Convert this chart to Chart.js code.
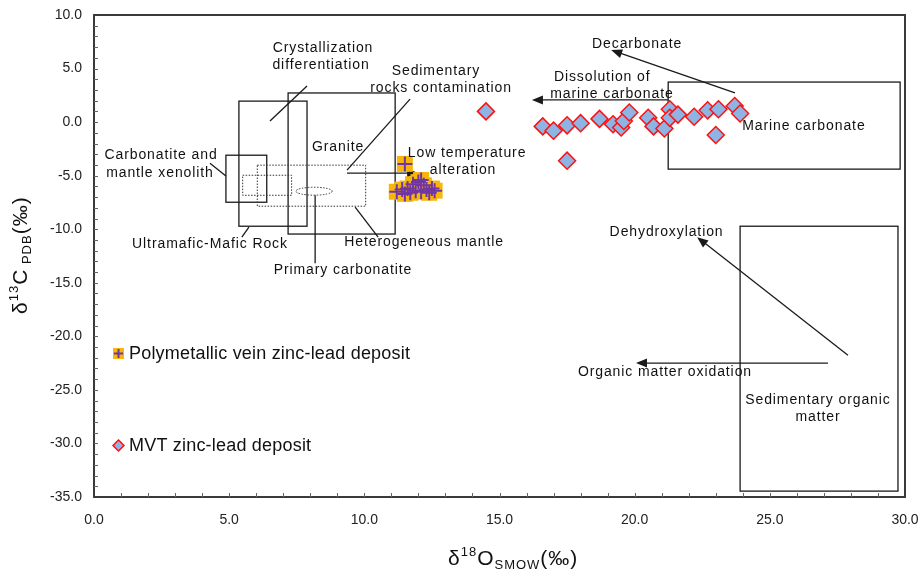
<!DOCTYPE html>
<html><head><meta charset="utf-8">
<script src="https://cdn.jsdelivr.net/npm/chart.js@4.4.1/dist/chart.umd.min.js"></script>
<style>html,body{margin:0;padding:0;background:#fff}#wrap{width:924px;height:573px}</style>
</head><body><div id="wrap"><canvas id="c" width="924" height="573"></canvas></div>
<script>
// ---------- data ----------
const polyX = [11.2, 11.4, 11.5, 11.6, 11.7, 11.8, 11.9, 12.0, 12.1, 12.2, 12.3, 12.4, 12.5, 12.6, 11.5, 12.1];
const polyY = [-6.5, -6.3, -6.7, -6.2, -6.6, -5.8, -6.4, -5.6, -6.5, -5.9, -6.3, -6.6, -6.2, -6.4, -3.9, -5.4];
const mvtX = [14.5, 16.6, 17.0, 17.5, 18.0, 17.5, 18.7, 19.2, 19.5, 19.6, 19.8, 20.5, 20.7, 21.1, 21.3, 21.3, 21.6, 22.2, 22.7, 23.1, 23.0, 23.7, 23.9];
const mvtY = [1.0, -0.4, -0.8, -0.3, -0.1, -3.6, 0.3, -0.2, -0.5, 0.1, 0.9, 0.4, -0.4, -0.6, 1.2, 0.4, 0.7, 0.5, 1.1, 1.2, -1.2, 1.5, 0.8];
const xTickValues = [0, 5, 10, 15, 20, 25, 30];
const xTickLabels = ['0.0', '5.0', '10.0', '15.0', '20.0', '25.0', '30.0'];
const yTickValues = [10, 5, 0, -5, -10, -15, -20, -25, -30, -35];
const yTickLabels = ['10.0', '5.0', '0.0', '-5.0', '-10.0', '-15.0', '-20.0', '-25.0', '-30.0', '-35.0'];
const seriesNames = ['Polymetallic vein zinc-lead deposit', 'MVT zinc-lead deposit'];

// ---------- annotations (data coordinates) ----------
const solidBoxes = [[5.36, 1.96, 7.88, -9.72], [7.18, 2.72, 11.14, -10.45], [4.88, -3.09, 6.39, -7.48], [21.24, 3.74, 29.82, -4.39], [23.90, -9.72, 29.74, -34.45]];
const dottedBoxes = [[5.50, -4.96, 7.31, -6.83], [6.04, -4.02, 10.05, -7.85]];
const ellipses = [[8.14, -6.45, 0.67, 0.37]];
const arrows = [[23.71, 2.72, 19.13, 6.73], [21.23, 2.07, 16.20, 2.07], [27.89, -21.76, 22.31, -10.74], [27.15, -22.5, 20.05, -22.5], [9.36, -4.76, 11.99, -4.76]];
const plainLines = [[9.36, -4.48, 11.69, 2.15], [6.51, 0.10, 7.88, 3.37], [4.29, -3.83, 4.88, -5.04], [5.73, -9.80, 5.47, -10.74], [8.18, -6.82, 8.18, -13.17], [9.66, -7.94, 10.51, -10.74]];
const labelTexts = ['Crystallization', 'differentiation', 'Sedimentary', 'rocks contamination', 'Granite', 'Low temperature', 'alteration', 'Carbonatite and', 'mantle xenolith', 'Ultramafic-Mafic Rock', 'Heterogeneous mantle', 'Primary carbonatite', 'Decarbonate', 'Dissolution of', 'marine carbonate', 'Marine carbonate', 'Dehydroxylation', 'Organic matter oxidation', 'Sedimentary organic', 'matter'];
const labelX = [8.47, 8.40, 12.65, 12.84, 9.03, 13.80, 13.65, 2.48, 2.44, 4.29, 12.21, 9.21, 20.09, 18.80, 19.16, 26.26, 21.18, 21.12, 26.78, 26.78];
const labelY = [6.92, 5.33, 4.77, 3.18, -2.33, -2.90, -4.48, -3.07, -4.75, -11.38, -11.19, -13.81, 7.29, 4.21, 2.62, -0.36, -10.27, -23.34, -25.95, -27.54];

const FONT = '"Liberation Sans", Arial, sans-serif';
const YELLOW = '#F6B60A', PURPLE = '#7236A3', BLUE = '#8DB4E2', RED = '#FF1010';

function makePolyMarker(s) {
  const c = document.createElement('canvas');
  c.width = s; c.height = s;
  const g = c.getContext('2d');
  g.fillStyle = YELLOW; g.fillRect(0, 0, s, s);
  g.strokeStyle = PURPLE; g.lineWidth = 2;
  g.beginPath();
  g.moveTo(s / 2, 1); g.lineTo(s / 2, s - 1);
  g.moveTo(1, s / 2); g.lineTo(s - 1, s / 2);
  g.stroke();
  return c;
}
const polyLegendMarker = makePolyMarker(11);

function arrowHead(ctx, x1, y1, x2, y2) {
  const a = Math.atan2(y2 - y1, x2 - x1), L = 11, W = 4.5;
  ctx.beginPath();
  ctx.moveTo(x2, y2);
  ctx.lineTo(x2 - L * Math.cos(a) + W * Math.sin(a), y2 - L * Math.sin(a) - W * Math.cos(a));
  ctx.lineTo(x2 - L * Math.cos(a) - W * Math.sin(a), y2 - L * Math.sin(a) + W * Math.cos(a));
  ctx.closePath(); ctx.fill();
}

function richText(ctx, segs, x, y) {
  let cx = x;
  segs.forEach(s => {
    ctx.font = s.size + 'px ' + FONT;
    ctx.fillText(s.t, cx, y + s.dy);
    cx += ctx.measureText(s.t).width;
  });
  return cx - x;
}

const annotPlugin = {
  id: 'annot',
  beforeDatasetsDraw(chart) {
    const ctx = chart.ctx, xs = chart.scales.x, ys = chart.scales.y;
    const X = v => xs.getPixelForValue(v), Y = v => ys.getPixelForValue(v);
    ctx.save();
    ctx.strokeStyle = '#1a1a1a'; ctx.lineWidth = 1.3;
    solidBoxes.forEach(b => { ctx.strokeRect(X(b[0]), Y(b[1]), X(b[2]) - X(b[0]), Y(b[3]) - Y(b[1])); });
    ctx.setLineDash([1.5, 1.5]); ctx.lineWidth = 1; ctx.strokeStyle = '#333';
    dottedBoxes.forEach(b => { ctx.strokeRect(X(b[0]), Y(b[1]), X(b[2]) - X(b[0]), Y(b[3]) - Y(b[1])); });
    ellipses.forEach(e => {
      ctx.beginPath();
      ctx.ellipse(X(e[0]), Y(e[1]), X(e[0] + e[2]) - X(e[0]), Y(e[1] - e[3]) - Y(e[1]), 0, 0, Math.PI * 2);
      ctx.stroke();
    });
    ctx.setLineDash([]);
    ctx.lineWidth = 1.3; ctx.strokeStyle = '#1a1a1a'; ctx.fillStyle = '#1a1a1a';
    plainLines.forEach(l => { ctx.beginPath(); ctx.moveTo(X(l[0]), Y(l[1])); ctx.lineTo(X(l[2]), Y(l[3])); ctx.stroke(); });
    arrows.forEach(l => {
      const x1 = X(l[0]), y1 = Y(l[1]), x2 = X(l[2]), y2 = Y(l[3]);
      const a = Math.atan2(y2 - y1, x2 - x1);
      ctx.beginPath(); ctx.moveTo(x1, y1); ctx.lineTo(x2 - 8 * Math.cos(a), y2 - 8 * Math.sin(a)); ctx.stroke();
      arrowHead(ctx, x1, y1, x2, y2);
    });
    ctx.restore();
  },
  afterDatasetsDraw(chart) {
    const ctx = chart.ctx, xs = chart.scales.x, ys = chart.scales.y, ca = chart.chartArea;
    const X = v => xs.getPixelForValue(v), Y = v => ys.getPixelForValue(v);
    ctx.save();
    // labels
    ctx.fillStyle = '#111'; ctx.textAlign = 'center'; ctx.textBaseline = 'middle';
    ctx.font = '14px ' + FONT; ctx.letterSpacing = '0.9px';
    labelTexts.forEach((t, i) => ctx.fillText(t, X(labelX[i]), Y(labelY[i])));
    // frame
    ctx.letterSpacing = '0px';
    ctx.strokeStyle = '#3a3a3a'; ctx.lineWidth = 2;
    ctx.strokeRect(ca.left, ca.top, ca.right - ca.left, ca.bottom - ca.top);
    // minor ticks
    ctx.lineWidth = 1; ctx.strokeStyle = '#666';
    ctx.beginPath();
    for (let v = 1; v < 30; v++) { const px = Math.round(X(v)) + 0.5; ctx.moveTo(px, ca.bottom); ctx.lineTo(px, ca.bottom - 4); }
    for (let v = -34; v < 10; v++) { const py = Math.round(Y(v)) + 0.5; ctx.moveTo(ca.left, py); ctx.lineTo(ca.left + 4, py); }
    ctx.stroke();
    // legend
    ctx.textAlign = 'left'; ctx.textBaseline = 'middle'; ctx.fillStyle = '#111';
    ctx.font = '18px ' + FONT; ctx.letterSpacing = '0.2px';
    ctx.drawImage(polyLegendMarker, 113, 348);
    ctx.fillText(seriesNames[0], 129, 354);
    ctx.save();
    ctx.translate(118.5, 445.5);
    ctx.beginPath(); ctx.moveTo(0, -5.5); ctx.lineTo(5.5, 0); ctx.lineTo(0, 5.5); ctx.lineTo(-5.5, 0); ctx.closePath();
    ctx.fillStyle = BLUE; ctx.fill(); ctx.strokeStyle = RED; ctx.lineWidth = 1.5; ctx.stroke();
    ctx.restore();
    ctx.fillStyle = '#111';
    ctx.fillText(seriesNames[1], 129, 446);
    ctx.letterSpacing = '1px';
    // axis titles
    ctx.textBaseline = 'alphabetic'; ctx.fillStyle = '#111';
    const xt = [{t: 'δ', size: 21, dy: 0}, {t: '18', size: 13, dy: -9}, {t: 'O', size: 21, dy: 0}, {t: 'SMOW', size: 13, dy: 4}, {t: '(‰)', size: 21, dy: 0}];
    richText(ctx, xt, 448, 565);
    const yt = [{t: 'δ', size: 21, dy: 0}, {t: '13', size: 13, dy: -9}, {t: 'C', size: 21, dy: 0}, {t: ' PDB', size: 13, dy: 4}, {t: '(‰)', size: 21, dy: 0}];
    ctx.translate(27, 314); ctx.rotate(-Math.PI / 2);
    richText(ctx, yt, 0, 0);
    ctx.restore();
  }
};

const polyPoints = polyX.map((x, i) => ({x, y: polyY[i]}));
new Chart(document.getElementById('c'), {
  type: 'scatter',
  data: {
    datasets: [
      {label: seriesNames[0], data: polyPoints, pointStyle: 'rect', pointRadius: 11.3, pointBackgroundColor: YELLOW, pointBorderWidth: 0, pointBorderColor: YELLOW, order: 2},
      {label: seriesNames[0] + ' (cross)', data: polyPoints, pointStyle: 'cross', pointRadius: 7.5, pointBorderColor: PURPLE, pointBorderWidth: 2, order: 1},
      {label: seriesNames[1], data: mvtX.map((x, i) => ({x, y: mvtY[i]})), pointStyle: 'rectRot', pointRadius: 8.5, pointBackgroundColor: BLUE, pointBorderColor: RED, pointBorderWidth: 1.5, order: 0}
    ]
  },
  options: {
    responsive: false, animation: false,
    layout: {padding: {left: 0, right: 19, top: 15, bottom: 0}},
    plugins: {legend: {display: false}, tooltip: {enabled: false}},
    scales: {
      x: {
        type: 'linear', min: 0, max: 30,
        afterBuildTicks: s => { s.ticks = xTickValues.map(v => ({value: v})); },
        afterFit: s => { s.height = 76; s.paddingLeft = 0; s.paddingRight = 0; },
        grid: {display: false, drawTicks: false}, border: {display: false},
        ticks: {padding: 15, color: '#222', font: {family: FONT, size: 14}, maxRotation: 0,
          callback: (v) => xTickLabels[xTickValues.indexOf(v)]}
      },
      y: {
        type: 'linear', min: -35, max: 10,
        afterBuildTicks: s => { s.ticks = yTickValues.map(v => ({value: v})); },
        afterFit: s => { s.width = 94; s.paddingTop = 0; s.paddingBottom = 0; },
        grid: {display: false, drawTicks: false}, border: {display: false},
        ticks: {padding: 12, color: '#222', font: {family: FONT, size: 14},
          callback: (v) => yTickLabels[yTickValues.indexOf(v)]}
      }
    }
  },
  plugins: [annotPlugin]
});
</script>
</body></html>
